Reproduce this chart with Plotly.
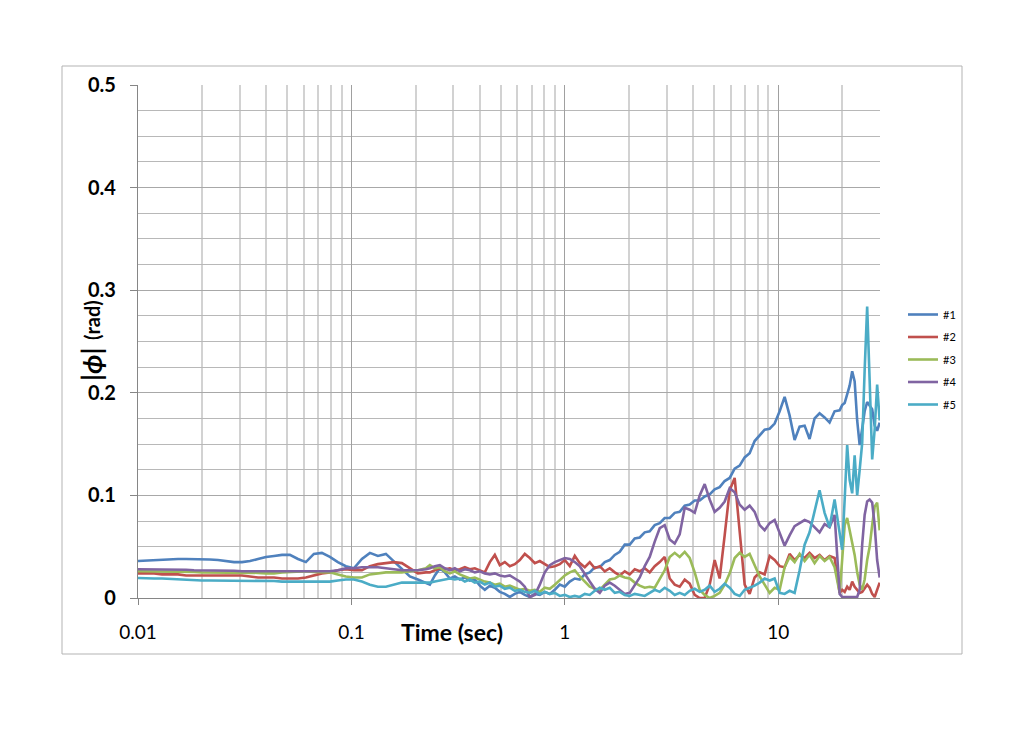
import plotly.graph_objects as go

# ---------------- data ----------------
# sample times (s) read along the log time axis
time_early = [0.0100, 0.0109, 0.0119, 0.01296, 0.0141, 0.0154, 0.0168, 0.0183, 0.0199, 0.0217,
              0.0237, 0.0258, 0.0282, 0.0307, 0.0335, 0.0365, 0.0398, 0.0434, 0.0473, 0.0515,
              0.0562, 0.0612, 0.0667, 0.0727, 0.0793, 0.0864, 0.0942, 0.1027, 0.1120, 0.1221,
              0.1331, 0.1451, 0.1581, 0.1724, 0.1879, 0.2049, 0.2233]
time_mid = [0.2332, 0.2461, 0.2597, 0.2741, 0.2893, 0.3053, 0.3222, 0.3401, 0.3589, 0.3788,
            0.3998, 0.4219, 0.4453, 0.4700, 0.4960, 0.5235, 0.5525, 0.5831, 0.6154, 0.6495,
            0.6855, 0.7235, 0.7636, 0.8059, 0.8505, 0.8976, 0.9473, 0.9998, 1.0552, 1.1137,
            1.1754, 1.2405, 1.3092, 1.3817, 1.4583, 1.5391, 1.6243, 1.7143, 1.8093, 1.9095,
            2.0153, 2.127, 2.245, 2.369, 2.500, 2.639, 2.785, 2.939, 3.102, 3.274,
            3.455, 3.647, 3.849, 4.062, 4.287, 4.524, 4.775, 5.039, 5.318, 5.613,
            5.924, 6.252, 6.598, 6.964, 7.349, 7.757, 8.186, 8.640, 9.118, 9.623,
            10.16, 10.72, 11.31, 11.94, 12.60, 13.30, 14.03, 14.81, 15.63, 16.50,
            17.41, 18.38]
time_end = [19.41, 19.94, 20.49, 21.05, 21.62, 22.22, 22.82, 23.45, 24.09, 24.75,
            25.42, 26.12, 26.83, 27.57, 28.32, 29.09, 29.89]

phi_1 = [0.036, 0.0365, 0.037, 0.037, 0.0375, 0.038, 0.038, 0.038, 0.038, 0.0375,
         0.037, 0.036, 0.035, 0.035, 0.036, 0.038, 0.040, 0.041, 0.042, 0.042,
         0.038, 0.035, 0.043, 0.044, 0.040, 0.035, 0.031, 0.029, 0.038, 0.044,
         0.041, 0.043, 0.036, 0.028, 0.021, 0.018, 0.015,
         0.013, 0.022, 0.029, 0.025, 0.019, 0.021, 0.018, 0.020, 0.017, 0.018,
         0.012, 0.008, 0.012, 0.010, 0.006, 0.004, 0.001, 0.004, 0.006, 0.003,
         0.001, 0.004, 0.003, 0.006, 0.004, 0.008, 0.013, 0.011, 0.016, 0.019,
         0.018, 0.023, 0.025, 0.030, 0.030, 0.035, 0.037, 0.042, 0.045, 0.052,
         0.052, 0.058, 0.059, 0.064, 0.065, 0.071, 0.073, 0.078, 0.078, 0.083,
         0.084, 0.090, 0.091, 0.095, 0.095, 0.099, 0.101, 0.106, 0.108, 0.114,
         0.117, 0.126, 0.129, 0.137, 0.141, 0.153, 0.158, 0.164, 0.165, 0.170,
         0.182, 0.196, 0.178, 0.154, 0.167, 0.168, 0.155, 0.175, 0.180, 0.176,
         0.171, 0.182,
         0.183, 0.188, 0.190, 0.199, 0.207, 0.221, 0.211, 0.173, 0.149, 0.165,
         0.182, 0.191, 0.187, 0.184, 0.168, 0.163, 0.171]

phi_2 = [0.024, 0.024, 0.024, 0.023, 0.023, 0.023, 0.022, 0.022, 0.022, 0.022,
         0.022, 0.022, 0.022, 0.022, 0.021, 0.020, 0.020, 0.020, 0.019, 0.019,
         0.019, 0.020, 0.022, 0.024, 0.025, 0.027, 0.028, 0.027, 0.027, 0.031,
         0.033, 0.034, 0.035, 0.034, 0.029, 0.024, 0.025,
         0.025, 0.027, 0.029, 0.028, 0.029, 0.027, 0.028, 0.030, 0.028, 0.029,
         0.027, 0.025, 0.035, 0.042, 0.032, 0.035, 0.031, 0.033, 0.037, 0.043,
         0.039, 0.034, 0.036, 0.033, 0.030, 0.031, 0.033, 0.037, 0.031, 0.041,
         0.034, 0.030, 0.035, 0.029, 0.031, 0.026, 0.029, 0.025, 0.022, 0.026,
         0.023, 0.028, 0.026, 0.029, 0.025, 0.031, 0.035, 0.040, 0.019, 0.013,
         0.011, 0.018, 0.014, 0.003, 0.000, 0.000, 0.013, 0.037, 0.019, 0.061,
         0.105, 0.117, 0.066, 0.013, 0.004, 0.020, 0.025, 0.023, 0.041, 0.037,
         0.031, 0.030, 0.043, 0.037, 0.042, 0.039, 0.044, 0.039, 0.042, 0.037,
         0.041, 0.039,
         0.005, 0.008, 0.006, 0.011, 0.008, 0.016, 0.011, 0.008, 0.005, 0.006,
         0.010, 0.013, 0.010, 0.004, 0.001, 0.008, 0.015]

phi_3 = [0.026, 0.026, 0.026, 0.026, 0.026, 0.0255, 0.0255, 0.0255, 0.025, 0.025,
         0.025, 0.025, 0.025, 0.025, 0.025, 0.0245, 0.024, 0.024, 0.025, 0.0255,
         0.026, 0.026, 0.0255, 0.025, 0.025, 0.023, 0.021, 0.020, 0.020, 0.023,
         0.024, 0.025, 0.025, 0.025, 0.026, 0.027, 0.029,
         0.032, 0.029, 0.030, 0.026, 0.024, 0.026, 0.023, 0.021, 0.019, 0.020,
         0.018, 0.016, 0.015, 0.013, 0.014, 0.011, 0.012, 0.010, 0.008, 0.009,
         0.007, 0.008, 0.006, 0.010, 0.009, 0.013, 0.018, 0.022, 0.025, 0.027,
         0.021, 0.016, 0.011, 0.009, 0.008, 0.013, 0.018, 0.019, 0.022, 0.020,
         0.019, 0.015, 0.012, 0.010, 0.011, 0.010, 0.018, 0.027, 0.040, 0.044,
         0.040, 0.045, 0.039, 0.025, 0.008, 0.003, 0.000, 0.002, 0.005, 0.013,
         0.024, 0.039, 0.044, 0.040, 0.043, 0.032, 0.021, 0.013, 0.005, 0.010,
         0.008, 0.030, 0.040, 0.035, 0.043, 0.036, 0.042, 0.034, 0.041, 0.036,
         0.040, 0.030,
         0.005, 0.037, 0.071, 0.078, 0.066, 0.057, 0.042, 0.025, 0.013, 0.008,
         0.018, 0.037, 0.050, 0.071, 0.089, 0.093, 0.066]

phi_4 = [0.028, 0.028, 0.028, 0.028, 0.028, 0.0275, 0.0275, 0.027, 0.027, 0.027,
         0.027, 0.0265, 0.0265, 0.026, 0.026, 0.026, 0.0255, 0.0255, 0.0255, 0.0255,
         0.0255, 0.0255, 0.026, 0.026, 0.026, 0.027, 0.029, 0.029, 0.030, 0.030,
         0.030, 0.029, 0.028, 0.027, 0.027, 0.027, 0.028,
         0.029, 0.031, 0.032, 0.029, 0.027, 0.029, 0.026, 0.028, 0.027, 0.025,
         0.026, 0.024, 0.023, 0.024, 0.022, 0.021, 0.022, 0.019, 0.016, 0.011,
         0.001, 0.003, 0.013, 0.025, 0.032, 0.035, 0.037, 0.039, 0.038, 0.035,
         0.031, 0.023, 0.016, 0.009, 0.005, 0.012, 0.015, 0.012, 0.008, 0.004,
         0.005, 0.013, 0.020, 0.031, 0.040, 0.055, 0.068, 0.071, 0.057, 0.053,
         0.062, 0.088, 0.086, 0.083, 0.100, 0.111, 0.096, 0.084, 0.088, 0.094,
         0.107, 0.103, 0.091, 0.086, 0.090, 0.084, 0.071, 0.066, 0.073, 0.076,
         0.063, 0.051, 0.061, 0.070, 0.073, 0.076, 0.074, 0.069, 0.064, 0.072,
         0.069, 0.081,
         0.004, 0.001, 0.001, 0.001, 0.001, 0.001, 0.001, 0.001, 0.008, 0.052,
         0.081, 0.094, 0.096, 0.093, 0.071, 0.037, 0.020]

phi_5 = [0.0195, 0.019, 0.019, 0.019, 0.0185, 0.018, 0.018, 0.0175, 0.017, 0.017,
         0.017, 0.017, 0.017, 0.017, 0.017, 0.017, 0.017, 0.0165, 0.016, 0.016,
         0.016, 0.016, 0.016, 0.016, 0.016, 0.017, 0.018, 0.018, 0.016, 0.013,
         0.011, 0.011, 0.013, 0.015, 0.015, 0.015, 0.015,
         0.015, 0.016, 0.017, 0.018, 0.019, 0.018, 0.019, 0.016, 0.018, 0.015,
         0.016, 0.013, 0.015, 0.011, 0.012, 0.009, 0.010, 0.007, 0.008, 0.006,
         0.005, 0.007, 0.004, 0.006, 0.004, 0.005, 0.002, 0.003, 0.001, 0.002,
         0.001, 0.004, 0.003, 0.007, 0.010, 0.008, 0.010, 0.005, 0.006, 0.003,
         0.002, 0.004, 0.003, 0.002, 0.005, 0.008, 0.006, 0.010, 0.007, 0.003,
         0.005, 0.003, 0.007, 0.009, 0.006, 0.008, 0.012, 0.006, 0.009, 0.014,
         0.010, 0.004, 0.002, 0.008, 0.010, 0.012, 0.015, 0.019, 0.017, 0.019,
         0.005, 0.004, 0.007, 0.005, 0.027, 0.052, 0.064, 0.086, 0.105, 0.083,
         0.069, 0.096,
         0.066, 0.047, 0.096, 0.149, 0.115, 0.102, 0.139, 0.100, 0.125, 0.151,
         0.222, 0.284, 0.212, 0.135, 0.164, 0.208, 0.173]

series_names = ["#1", "#2", "#3", "#4", "#5"]
series_colors = ["#4F81BD", "#C0504D", "#9BBB59", "#8064A2", "#4BACC6"]
x_tick_vals = [0.01, 0.1, 1, 10]
x_tick_text = ["0.01", "0.1", "1", "10"]
y_tick_vals = [0, 0.1, 0.2, 0.3, 0.4, 0.5]
y_tick_text = ["0", "0.1", "0.2", "0.3", "0.4", "0.5"]

# ---------------- figure ----------------
time_s = time_early + time_mid + time_end
series_vals = [phi_1, phi_2, phi_3, phi_4, phi_5]

FONT = "Lato, 'Open Sans', sans-serif"
OFF = 8  # page body margin added by the browser
W, H = 1027, 724
ML, MR, MT, MB = 130, 155, 77, 134
PW, PH = W - ML - MR, H - MT - MB


def px_x(p):
    return (p - OFF - ML) / PW


def px_y(p):
    return (H - MB - (p - OFF)) / PH


fig = go.Figure()
for name, color, vals in zip(series_names, series_colors, series_vals):
    fig.add_trace(go.Scatter(
        x=time_s, y=vals, mode="lines", name=name, legendgroup=name,
        line=dict(color=color, width=2.6),
    ))

minor_x = [m * 10.0 ** e for e in range(-2, 2) for m in range(2, 10) if m * 10.0 ** e <= 30.0001]

fig.update_xaxes(
    type="log", range=[-2, 1.4771], tickmode="array",
    tickvals=x_tick_vals, ticktext=x_tick_text,
    tickfont=dict(family=FONT, size=19, color="#000000"),
    ticks="outside", ticklen=6, tickcolor="#868686", tickwidth=1,
    ticklabelstandoff=11,
    showgrid=True, gridcolor="#a0a0a0", gridwidth=1.4,
    minor=dict(tickvals=minor_x, showgrid=True, gridcolor="#d2d2d2", gridwidth=1.5, ticks=""),
    showline=True, linecolor="#868686", linewidth=1.3,
    zeroline=False, fixedrange=True,
)
fig.update_yaxes(
    range=[0, 0.5], tickmode="array", tickvals=y_tick_vals, ticktext=y_tick_text,
    tickfont=dict(family=FONT, size=20, color="#000000", weight="bold"),
    ticks="outside", ticklen=7, tickcolor="#868686", tickwidth=1,
    ticklabelstandoff=10,
    showgrid=True, gridcolor="#a8a8a8", gridwidth=1,
    minor=dict(dtick=0.025, showgrid=True, gridcolor="#b8b8b8", gridwidth=1, ticks=""),
    showline=True, linecolor="#868686", linewidth=1.3,
    zeroline=False, fixedrange=True,
)

fig.add_annotation(
    xref="paper", yref="paper", x=px_x(452), y=px_y(632),
    text="<b>Time (sec)</b>", showarrow=False,
    font=dict(family=FONT, size=23, color="#000000"),
    xanchor="center", yanchor="middle",
)
# y-axis title, drawn in two rotated pieces
fig.add_annotation(
    xref="paper", yref="paper", x=px_x(91), y=px_y(364),
    text="<b>|<i>ϕ</i>|</b>",
    showarrow=False, textangle=-90,
    font=dict(family=FONT, size=27, color="#000000"),
    xanchor="center", yanchor="middle",
)
fig.add_annotation(
    xref="paper", yref="paper", x=px_x(92), y=px_y(320),
    text="<b>(rad)</b>",
    showarrow=False, textangle=-90,
    font=dict(family=FONT, size=20, color="#000000"),
    xanchor="center", yanchor="middle",
)

# outer chart border
fig.add_shape(type="rect", xref="paper", yref="paper",
              x0=px_x(62), x1=px_x(962), y0=px_y(654), y1=px_y(66),
              line=dict(color="#b3b3b3", width=1), fillcolor="rgba(0,0,0,0)", layer="below")

fig.update_layout(
    width=W, height=H, autosize=False,
    margin=dict(l=ML, r=MR, t=MT, b=MB),
    paper_bgcolor="white", plot_bgcolor="white",
    showlegend=True,
    legend=dict(
        x=px_x(903), y=px_y(300), xanchor="left", yanchor="top",
        font=dict(family=FONT, size=11, color="#000000"),
        bgcolor="rgba(0,0,0,0)", itemwidth=30, tracegroupgap=3.5,
        itemclick=False, itemdoubleclick=False,
    ),
    font=dict(family=FONT),
)

fig.write_html("out.html", config={"displayModeBar": False})
